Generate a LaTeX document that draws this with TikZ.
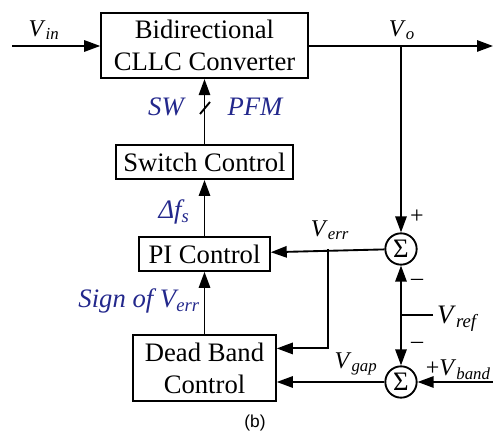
\documentclass[tikz,border=0pt]{standalone}
\usepackage{fontspec}
\setmainfont{Liberation Serif}
\newfontfamily\capfont{Liberation Sans}
\usepackage{xcolor}
\usepackage{tikz}
\usetikzlibrary{arrows.meta,positioning,calc}
\definecolor{sigblue}{RGB}{35,40,140}
\newcommand{\sig}[2]{\textit{#1}\textsubscript{\textit{#2}}}
\tikzset{
  blk/.style={rectangle,draw,line width=1.4pt,align=center,inner sep=0pt,
              font=\fontsize{20}{24.5}\selectfont},
  sum/.style={circle,draw,line width=1.4pt,minimum size=23.5pt,inner sep=0pt,
              font=\fontsize{20}{20}\selectfont},
  lbl/.style={inner sep=0pt,font=\fontsize{18}{18}\selectfont},
  biglbl/.style={inner sep=0pt,font=\fontsize{20}{20}\selectfont},
  ctl/.style={inner sep=0pt,text=sigblue,font=\fontsize{20}{20}\selectfont\itshape},
  wire/.style={line width=1.4pt},
  arr/.style={-{Triangle[length=12pt,width=8.5pt]},line width=1.4pt},
  darr/.style={{Triangle[length=12pt,width=8.5pt]}-{Triangle[length=12pt,width=8.5pt]},line width=1.4pt},
}
\begin{document}
\begin{tikzpicture}[x=0.75pt,y=-0.75pt]
  \useasboundingbox (0,0) rectangle (493,434);

  % --- blocks ---
  \node[blk, minimum width=155pt, minimum height=49pt] (conv) at (204.5,45.5)
    {Bidirectional\\CLLC Converter};
  \node[blk, minimum width=133pt, minimum height=25.5pt, below=48.75pt of conv] (sw)
    {Switch Control};
  \node[blk, minimum width=98pt, minimum height=25.5pt, below=42pt of sw] (pi)
    {PI Control};
  \node[blk, minimum width=107pt, minimum height=49.5pt, below=47pt of pi] (db)
    {Dead Band\\Control};

  % --- summing junctions ---
  \node[sum] (sum1) at (401,249) {Σ};
  \node[sum] (sum2) at (401,382) {Σ};

  % --- free ends and taps ---
  \coordinate (vin) at (12,46);
  \coordinate (vout) at (493,46);
  \coordinate (vtap) at (401,46);
  \coordinate (etap) at (328,249);
  \coordinate (vref) at (433,315);
  \coordinate (vband) at (493,382);

  % --- connectors ---
  \draw[arr] (vin) -- (vin -| conv.west);
  \draw[arr] (vin -| conv.east) -- (vout);
  \draw[arr] (vtap) -- (sum1.north);
  \draw[arr] (sw) -- (conv);
  \draw[wire] (200,114) -- (210,102);
  \draw[arr] (pi) -- (sw);
  \draw[arr] (db) -- (pi);
  \draw[arr] (sum1) -- (pi);
  \draw[arr] (etap) |- ($(db.east)+(0,-20)$);
  \draw[arr] (sum2) -- (sum2 -| db.east);
  \draw[darr] (sum1) -- (sum2);
  \draw[wire] (vref) -- (vref -| sum1);
  \draw[arr] (vband) -- (sum2);

  % --- labels ---
  \node[lbl] (vinl) at (44,30) {\sig{V}{in}};
  \node[lbl] (vol) at (402,30) {\sig{V}{o}};
  \node[ctl] (swl) at (166,107) {SW};
  \node[ctl] (pfml) at (255,107) {PFM};
  \node[ctl] (dfl) at (174,212) {\sig{Δf}{s}};
  \node[ctl, anchor=east] (sgnl) at (200,301) {Sign of \sig{V}{err}};
  \node[lbl] (verrl) at (330,230) {\sig{V}{err}};
  \node[lbl] (plus1) at (417,217) {+};
  \node[lbl] (minus1) at (417,282) {–};
  \node[lbl] (minus2) at (417,345) {–};
  \node[biglbl] (vrefl) at (458,319) {\sig{V}{ref}};
  \node[lbl] (vgapl) at (356,364) {\sig{V}{gap}};
  \node[lbl, anchor=east] (vbandl) at (491,370) {+\sig{V}{band}};
  \node[inner sep=0pt, font=\capfont\fontsize{13}{13}\selectfont] (cap) at (255,423) {(b)};
\end{tikzpicture}
\end{document}
